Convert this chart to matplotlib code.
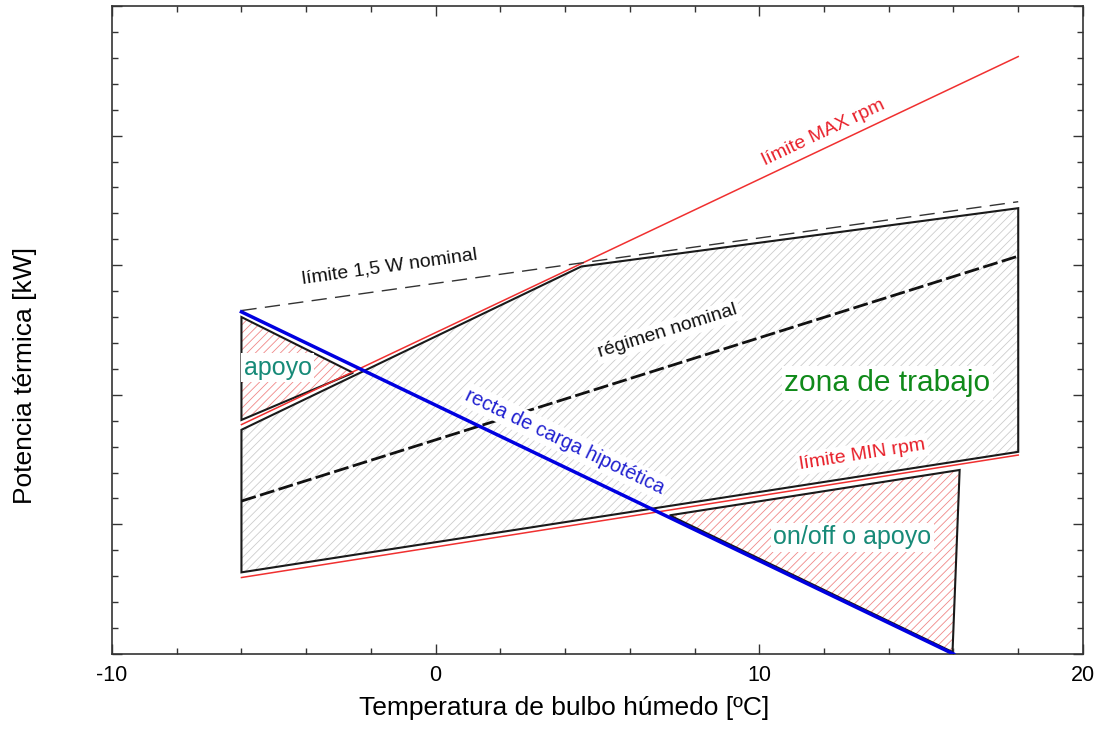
import numpy as np
import matplotlib
matplotlib.use('Agg')
import matplotlib.pyplot as plt
from matplotlib.patches import Polygon
from matplotlib.ticker import MultipleLocator

plt.rcParams['font.family'] = ['Liberation Sans', 'DejaVu Sans']
plt.rcParams['hatch.linewidth'] = 0.6
plt.rcParams['axes.unicode_minus'] = False

# Temperaturas de bulbo húmedo extremas del rango de operación
t_ext = [-6, 18]

# Rectas límite (potencia en los extremos)
p_max_rpm = [17.7, 46.1]
p_min_rpm = [5.9, 15.35]
p_15w = [26.5, 34.9]
p_nominal = [11.8, 30.7]

# Recta de carga hipotética
t_carga = [-6, 16]
p_carga = [26.4, 0.0]

# Zona de trabajo (polígono)
zona_t = [-6, 4.5, 18, 18, -6]
zona_p = [17.3, 29.9, 34.4, 15.6, 6.3]

# Zona de apoyo (baja temperatura)
apoyo_t = [-6, -2.55, -6]
apoyo_p = [26.0, 21.7, 18.06]

# Zona on/off o apoyo (alta temperatura)
onoff_t = [7.23, 16.19, 15.97]
onoff_p = [10.7, 14.2, 0.15]

fig = plt.figure(figsize=(10.99, 7.34), dpi=100)
ax = fig.add_axes([0.1019, 0.109, 0.8835, 0.8828])
ax.set_xlim(-10, 20)
ax.set_ylim(0, 50)


def zona(t, p, color_rayado, zorder):
    xy = np.column_stack([t, p])
    ax.add_patch(Polygon(xy, closed=True, fill=False, hatch='////',
                         edgecolor=color_rayado, linewidth=0, zorder=zorder))
    ax.add_patch(Polygon(xy, closed=True, fill=False, edgecolor='#1a1a1a',
                         linewidth=1.5, zorder=zorder + 0.5))


zona(zona_t, zona_p, '#cccccc', 1)
zona(apoyo_t, apoyo_p, '#f08888', 1)
zona(onoff_t, onoff_p, '#f08888', 1)

ax.plot(t_ext, p_max_rpm, color='#f03030', lw=1.1, zorder=3)
ax.plot(t_ext, p_min_rpm, color='#f03030', lw=1.1, zorder=3)
ax.plot(t_ext, p_15w, color='#333333', lw=1.0, dashes=(11, 6), zorder=3)
ax.plot(t_ext, p_nominal, color='#111111', lw=2.0, dashes=(5.4, 1.6), zorder=3)
ax.plot(t_carga, p_carga, color='#0000e0', lw=2.5, zorder=4)


def pendiente(t, p):
    return np.degrees(np.arctan2(p[1] - p[0], t[1] - t[0]))


caja = dict(facecolor='white', edgecolor='none', pad=2)
kw = dict(ha='center', va='center', rotation_mode='anchor',
          transform_rotates_text=True, zorder=5)

ax.text(12.0, 40.2, 'límite MAX rpm', color='#e8202a', fontsize=14,
        rotation=pendiente(t_ext, p_max_rpm), **kw)
ax.text(-1.42, 29.9, 'límite 1,5 W nominal', color='#111111', fontsize=14,
        rotation=pendiente(t_ext, p_15w), **kw)
ax.text(7.17, 24.9, 'régimen nominal', color='#111111', fontsize=14,
        rotation=pendiente(t_ext, p_nominal), bbox=caja, **kw)
ax.text(13.19, 15.4, 'límite MIN rpm', color='#e8202a', fontsize=14,
        rotation=pendiente(t_ext, p_min_rpm), bbox=caja, **kw)
ax.text(3.99, 16.4, 'recta de carga hipotética', color='#2020d0', fontsize=14.3,
        rotation=pendiente(t_carga, p_carga), bbox=caja, **kw)
ax.text(13.96, 20.9, 'zona de trabajo', color='#108a1a', fontsize=21.5,
        bbox=caja, ha='center', va='center', zorder=5)
ax.text(-4.88, 22.1, 'apoyo', color='#178a78', fontsize=18,
        bbox=caja, ha='center', va='center', zorder=5)
ax.text(12.88, 9.0, 'on/off o apoyo', color='#178a78', fontsize=18,
        bbox=caja, ha='center', va='center', zorder=5)

ax.set_xticks([-10, 0, 10, 20])
ax.xaxis.set_minor_locator(MultipleLocator(2))
ax.yaxis.set_major_locator(MultipleLocator(10))
ax.yaxis.set_minor_locator(MultipleLocator(2))
ax.tick_params(which='both', direction='in', top=True, right=True,
               color='#333333', width=1)
ax.tick_params(which='major', length=7, labelsize=15.5, pad=8)
ax.tick_params(which='minor', length=4)
ax.tick_params(axis='y', labelleft=False)
for s in ax.spines.values():
    s.set_linewidth(1.2)
    s.set_color('#333333')

ax.set_xlabel('Temperatura de bulbo húmedo [ºC]', fontsize=19)
ax.set_ylabel('Potencia térmica [kW]', fontsize=19)
ax.xaxis.set_label_coords(0.466, -0.065)
ax.yaxis.set_label_coords(-0.077, 0.43)

fig.savefig('out.png', dpi=100)
